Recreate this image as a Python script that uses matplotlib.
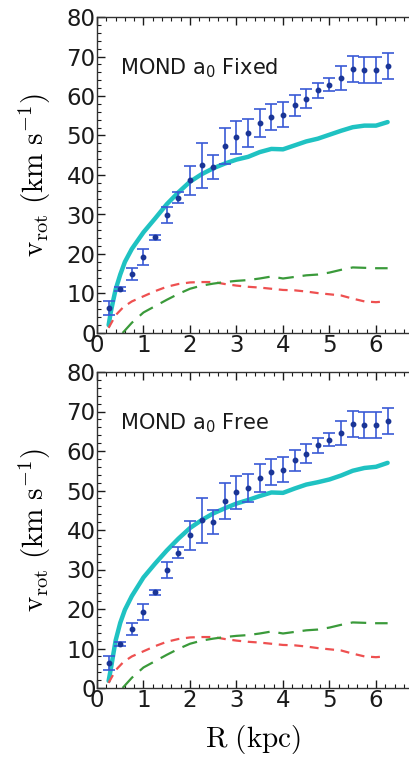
import numpy as np
import matplotlib
matplotlib.use("Agg")
import matplotlib.pyplot as plt
from matplotlib.ticker import MultipleLocator

# observed rotation curve (same in both panels)
r_obs = [0.25, 0.5, 0.75, 1.0, 1.25, 1.5, 1.75, 2.0, 2.25, 2.5, 2.75, 3.0, 3.25,
         3.5, 3.75, 4.0, 4.25, 4.5, 4.75, 5.0, 5.25, 5.5, 5.75, 6.0, 6.25]
v_obs = [6.3, 11.1, 15.0, 19.3, 24.2, 29.9, 34.3, 38.7, 42.5, 42.0, 47.4, 49.5, 50.7,
         53.2, 54.8, 55.3, 57.6, 59.3, 61.4, 62.9, 64.5, 66.9, 66.6, 66.6, 67.5]
v_err = [1.7, 0.5, 1.5, 2.0, 0.6, 2.0, 1.5, 3.7, 5.7, 3.0, 4.5, 4.2, 3.6,
         3.5, 3.3, 3.1, 2.6, 2.4, 2.0, 1.7, 3.0, 3.3, 3.4, 3.3, 3.3]

# MOND total curves
r_mond = [0.25, 0.3, 0.35, 0.4, 0.5, 0.6, 0.75, 1.0, 1.25, 1.5, 1.75, 2.0, 2.25, 2.5,
          2.75, 3.0, 3.25, 3.5, 3.75, 4.0, 4.25, 4.5, 4.75, 5.0, 5.25, 5.5, 5.75, 6.0, 6.25]
v_fixed = [2.0, 5.5, 8.3, 11.0, 14.8, 18.0, 21.3, 25.5, 29.0, 32.6, 35.6, 38.3, 40.2, 41.7,
           42.9, 43.9, 44.6, 45.8, 46.6, 46.5, 47.5, 48.5, 49.2, 50.2, 51.2, 52.1, 52.5, 52.5, 53.4]
v_free = [1.8, 5.0, 8.5, 12.0, 16.5, 19.8, 23.3, 28.0, 31.5, 34.8, 37.8, 40.5, 42.5, 44.2,
          45.5, 46.7, 47.6, 48.6, 49.5, 49.4, 50.5, 51.5, 52.1, 52.8, 53.8, 55.0, 55.7, 56.0, 57.0]

# gas (red) and stellar disk (green) components
r_gas = [0.25, 0.4, 0.57, 0.75, 1.0, 1.25, 1.5, 1.75, 2.0, 2.25, 2.5, 2.75, 3.0, 3.25,
         3.5, 3.75, 4.0, 4.25, 4.5, 4.75, 5.0, 5.25, 5.5, 5.75, 6.0, 6.1]
v_gas = [1.3, 4.5, 6.6, 8.0, 9.3, 10.6, 11.7, 12.4, 12.8, 12.9, 12.9, 12.4, 12.0, 11.7,
         11.5, 11.2, 10.9, 10.8, 10.5, 10.1, 9.8, 9.5, 8.7, 8.0, 7.8, 7.9]
r_disk = [0.55, 0.75, 1.0, 1.25, 1.5, 1.75, 2.0, 2.25, 2.5, 2.75, 3.0, 3.25, 3.5, 3.75,
          4.0, 4.25, 4.5, 4.75, 5.0, 5.25, 5.5, 5.75, 6.0, 6.25]
v_disk = [0.0, 2.6, 5.2, 6.8, 8.4, 9.9, 11.2, 12.0, 12.5, 12.9, 13.2, 13.4, 13.8, 14.3,
          13.8, 14.2, 14.6, 14.8, 15.3, 16.0, 16.6, 16.5, 16.4, 16.4]

panels = [("MOND a$_0$ Fixed", v_fixed), ("MOND a$_0$ Free", v_free)]

plt.rcParams['mathtext.fontset'] = 'cm'

fig = plt.figure(figsize=(4.1, 7.58), dpi=100)
W, H = 410.0, 758.0
x0, px_per_kpc = 97.0, 46.5
xmax = 7.0
# axes boxes in pixels (top, bottom)
boxes = [(17, 333), (372, 688)]

for i, ((title, v_mod), (top, bot)) in enumerate(zip(panels, boxes)):
    ax = fig.add_axes([x0 / W, 1 - bot / H, xmax * px_per_kpc / W, (bot - top) / H])
    ax.plot(r_mond, v_mod, color='#1fc2c2', lw=3.2, solid_capstyle='round', zorder=2)
    ax.plot(r_gas, v_gas, color='#ee5050', lw=1.6, dashes=(4, 3), zorder=2)
    ax.plot(r_disk, v_disk, color='#3a9a3a', lw=1.6, dashes=(7, 4), zorder=2)
    ax.errorbar(r_obs, v_obs, yerr=v_err, fmt='o', ms=3.2, color='#1a3596',
                ecolor='#3a5ad6', elinewidth=1.2, capsize=4.5, capthick=1.2, zorder=3)
    ax.text(0.5, 67, title, fontsize=15, color='#1a1a1a', va='center', ha='left',
            math_fontfamily='dejavusans')

    ax.set_xlim(0, xmax)
    ax.set_ylim(0, 80)
    ax.xaxis.set_major_locator(MultipleLocator(1))
    ax.xaxis.set_minor_locator(MultipleLocator(0.2))
    ax.yaxis.set_major_locator(MultipleLocator(10))
    ax.yaxis.set_minor_locator(MultipleLocator(2))
    ax.tick_params(which='both', direction='in', top=True, right=True, labelsize=16.5,
                   colors='#1a1a1a', pad=1)
    ax.tick_params(which='major', length=6, width=1.0)
    ax.tick_params(which='minor', length=3, width=0.8)
    for s in ax.spines.values():
        s.set_linewidth(1.0)
        s.set_color('#333333')
    ax.set_xticks(range(0, 7))
    ax.set_ylabel(r'$\mathrm{v_{rot}\ (km\ s^{-1})}$', fontsize=21, labelpad=0)
    ax.yaxis.set_label_coords(-0.135, 0.5)
    if i == 1:
        ax.set_xlabel(r'$\mathrm{R\ (kpc)}$', fontsize=21, labelpad=2)
        ax.xaxis.set_label_coords(0.5 * 6.73 / xmax, -0.11)

fig.savefig('out.png', dpi=100)
